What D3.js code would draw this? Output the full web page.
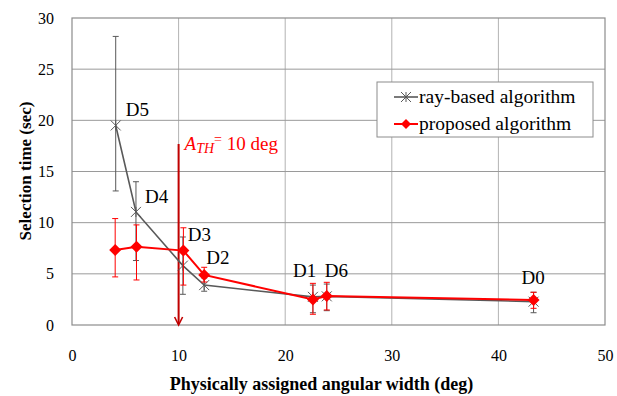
<!DOCTYPE html>
<html>
<head>
<meta charset="utf-8">
<script src="https://cdn.jsdelivr.net/npm/d3@7"></script>
<style>
  @font-face { font-family: "ChartSerif"; src: local("Liberation Serif"), local("LiberationSerif"); font-weight: normal; font-style: normal; }
  @font-face { font-family: "ChartSerif"; src: local("Liberation Serif Bold"), local("LiberationSerif-Bold"); font-weight: bold; font-style: normal; }
  @font-face { font-family: "ChartSerif"; src: local("Liberation Serif Italic"), local("LiberationSerif-Italic"); font-weight: normal; font-style: italic; }
  body { margin: 0; background: #fff; }
</style>
</head>
<body>
<div id="container"></div>
<script>
/* ---------------- DATA ---------------- */
const labels = ["D5", "D4", "D3", "D2", "D1", "D6", "D0"];

const rayX    = [4.1, 6.0, 10.4, 12.4, 22.6, 23.9, 43.3];
const rayMean = [19.5, 11.05, 5.8, 3.9, 2.75, 2.8, 2.28];
const rayLo   = [13.1, 6.3, 3.0, 3.3, 1.2, 1.4, 1.2];
const rayHi   = [28.2, 14.0, 8.6, 4.6, 3.9, 4.0, 3.2];

const propX    = [4.05, 6.05, 10.45, 12.4, 22.6, 23.9, 43.3];
const propMean = [7.33, 7.65, 7.27, 4.89, 2.5, 2.83, 2.44];
const propLo   = [4.7, 4.4, 3.9, 4.2, 1.05, 1.47, 1.63];
const propHi   = [10.4, 9.78, 9.5, 5.64, 4.07, 4.17, 3.2];

const xTicks = [0, 10, 20, 30, 40, 50];
const yTicks = [0, 5, 10, 15, 20, 25, 30];
const threshold = 10;

// label offsets from the ray-based point (px)
const labelDx = [10, 9, 5, 2, -20, -2, -12];
const labelDy = [-9, -9, -25, -21, -20, -19, -18];

/* ---------------- LAYOUT ---------------- */
const W = 617, H = 396;
const L = 72, R = 605, T = 18, B = 325;
const FONT = "'Liberation Serif', ChartSerif, 'Times New Roman', serif";

const svg = d3.select("#container").append("svg")
  .attr("width", W)
  .attr("height", H)
  .style("font-family", FONT);

function txt(sel) {
  return sel.attr("font-family", null).style("font-family", FONT);
}

const x = d3.scaleLinear().domain([0, 50]).range([L, R]);
const y = d3.scaleLinear().domain([0, 30]).range([B, T]);

/* ---------------- GRID ---------------- */
svg.append("g")
  .selectAll("line")
  .data(xTicks.slice(1, -1))
  .enter().append("line")
  .attr("x1", d => x(d)).attr("x2", d => x(d))
  .attr("y1", T).attr("y2", B)
  .attr("stroke", "#b3b3b3").attr("stroke-width", 1);

svg.append("g")
  .selectAll("line")
  .data(yTicks.slice(1, -1))
  .enter().append("line")
  .attr("x1", L).attr("x2", R)
  .attr("y1", d => y(d)).attr("y2", d => y(d))
  .attr("stroke", "#9a9a9a").attr("stroke-width", 1);

svg.append("rect")
  .attr("x", L).attr("y", T)
  .attr("width", R - L).attr("height", B - T)
  .attr("fill", "none").attr("stroke", "#8c8c8c").attr("stroke-width", 1.2);

/* ---------------- AXES ---------------- */
const xAxis = svg.append("g")
  .attr("transform", `translate(0,${B + 30})`)
  .call(d3.axisBottom(x).tickValues(xTicks).tickSize(0).tickPadding(0));
txt(xAxis);
xAxis.select(".domain").remove();
txt(xAxis.selectAll("text"))
  .attr("font-size", 16)
  .attr("fill", "#000").attr("dy", "0.35em");

const yAxis = svg.append("g")
  .attr("transform", `translate(${L - 18},0)`)
  .call(d3.axisLeft(y).tickValues(yTicks).tickSize(0).tickPadding(0));
txt(yAxis);
yAxis.select(".domain").remove();
txt(yAxis.selectAll("text"))
  .attr("font-size", 16)
  .attr("fill", "#000");

txt(svg.append("text"))
  .attr("x", (L + R) / 2 - 17)
  .attr("y", 390)
  .attr("text-anchor", "middle")
  .attr("font-size", 18).attr("font-weight", "bold")
  .text("Physically assigned angular width (deg)");

txt(svg.append("text"))
  .attr("transform", "rotate(-90)")
  .attr("x", -171)
  .attr("y", 31)
  .attr("text-anchor", "middle")
  .attr("font-size", 17).attr("font-weight", "bold")
  .text("Selection time (sec)");

/* ---------------- THRESHOLD ARROW ---------------- */
const arrowTop = 144;
svg.append("line")
  .attr("x1", x(threshold)).attr("x2", x(threshold))
  .attr("y1", arrowTop).attr("y2", B - 1)
  .attr("stroke", "#c00000").attr("stroke-width", 2);
svg.append("path")
  .attr("d", `M${x(threshold) - 4},${B - 8} L${x(threshold)},${B} L${x(threshold) + 4},${B - 8}`)
  .attr("fill", "none").attr("stroke", "#c00000").attr("stroke-width", 1.6);

const ath = txt(svg.append("text"))
  .attr("x", x(threshold) + 6)
  .attr("y", 150)
  .attr("font-size", 19)
  .attr("fill", "#ff0000");
ath.append("tspan").attr("font-style", "italic").text("A");
ath.append("tspan").attr("font-style", "italic").attr("font-size", 14).attr("dy", 3).text("TH");
ath.append("tspan").attr("font-size", 14).attr("dy", -9).text("=");
ath.append("tspan").attr("dy", 6).text(" 10 deg");

/* ---------------- SERIES ---------------- */
const ray = rayX.map((d, i) => ({ x: d, m: rayMean[i], lo: rayLo[i], hi: rayHi[i] }));
const prop = propX.map((d, i) => ({ x: d, m: propMean[i], lo: propLo[i], hi: propHi[i] }));

const line = d3.line().x(d => x(d.x)).y(d => y(d.m));

function errorBars(data, color, width) {
  const g = svg.append("g").attr("stroke", color).attr("stroke-width", width);
  data.forEach(d => {
    g.append("line").attr("x1", x(d.x)).attr("x2", x(d.x)).attr("y1", y(d.lo)).attr("y2", y(d.hi));
    g.append("line").attr("x1", x(d.x) - 3).attr("x2", x(d.x) + 3).attr("y1", y(d.lo)).attr("y2", y(d.lo));
    g.append("line").attr("x1", x(d.x) - 3).attr("x2", x(d.x) + 3).attr("y1", y(d.hi)).attr("y2", y(d.hi));
  });
}

function asterisk(g, cx, cy, s, color) {
  g.append("path")
    .attr("d", `M${cx - s},${cy - s}L${cx + s},${cy + s}M${cx - s},${cy + s}L${cx + s},${cy - s}M${cx},${cy - s}L${cx},${cy + s}`)
    .attr("stroke", color).attr("stroke-width", 1).attr("fill", "none");
}

function diamond(g, cx, cy, s, color) {
  g.append("path")
    .attr("d", `M${cx},${cy - s}L${cx + s},${cy}L${cx},${cy + s}L${cx - s},${cy}Z`)
    .attr("fill", color);
}

// ray-based
errorBars(ray, "#595959", 1);
svg.append("path").datum(ray).attr("d", line)
  .attr("fill", "none").attr("stroke", "#595959").attr("stroke-width", 1.6);
const rayMarks = svg.append("g");
ray.forEach(d => asterisk(rayMarks, x(d.x), y(d.m), 5, "#595959"));

// proposed
errorBars(prop, "#ff0000", 1);
svg.append("path").datum(prop).attr("d", line)
  .attr("fill", "none").attr("stroke", "#ff0000").attr("stroke-width", 2);
const propMarks = svg.append("g");
prop.forEach(d => diamond(propMarks, x(d.x), y(d.m), 6, "#ff0000"));

/* ---------------- POINT LABELS ---------------- */
txt(svg.append("g")
  .selectAll("text")
  .data(ray)
  .enter().append("text"))
  .attr("x", (d, i) => x(d.x) + labelDx[i])
  .attr("y", (d, i) => y(d.m) + labelDy[i])
  .attr("font-size", 19)
  .attr("fill", "#000")
  .text((d, i) => labels[i]);

/* ---------------- LEGEND ---------------- */
const lg = svg.append("g");
lg.append("rect")
  .attr("x", 377).attr("y", 82)
  .attr("width", 216).attr("height", 55)
  .attr("fill", "#fff").attr("stroke", "#8c8c8c").attr("stroke-width", 1);

lg.append("line").attr("x1", 394).attr("x2", 418).attr("y1", 97).attr("y2", 97)
  .attr("stroke", "#595959").attr("stroke-width", 1.6);
asterisk(lg, 406, 97, 5, "#595959");
txt(lg.append("text"))
  .attr("x", 419).attr("y", 103).attr("font-size", 19.5).text("ray-based algorithm");

lg.append("line").attr("x1", 394).attr("x2", 418).attr("y1", 124).attr("y2", 124)
  .attr("stroke", "#ff0000").attr("stroke-width", 2);
diamond(lg, 406, 124, 5, "#ff0000");
txt(lg.append("text"))
  .attr("x", 419).attr("y", 130).attr("font-size", 19.5).text("proposed algorithm");
</script>
</body>
</html>
